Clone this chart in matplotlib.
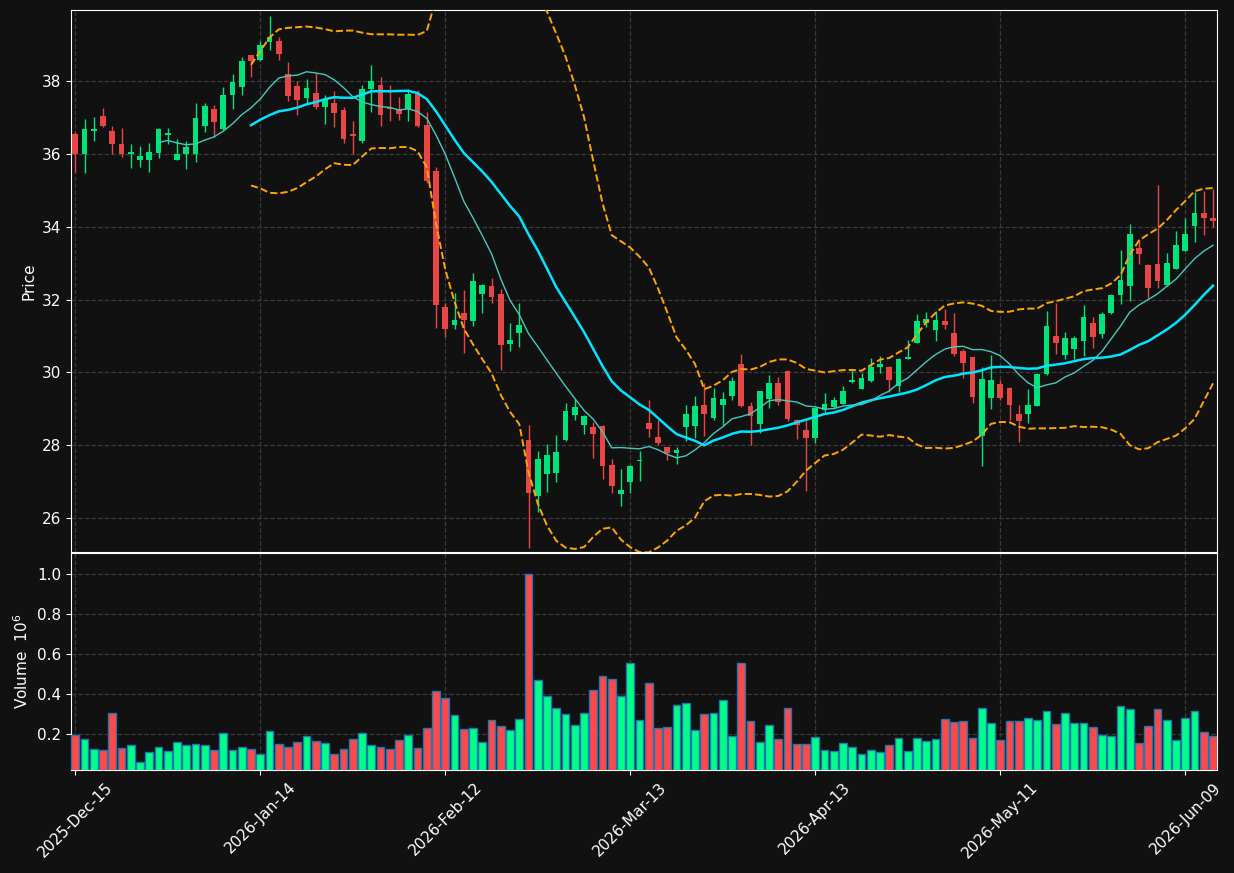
import numpy as np
import pandas as pd
import matplotlib
matplotlib.use("Agg")
import matplotlib.pyplot as plt

# ---------------- data ----------------
opens = [36.55, 36.00, 36.64, 37.04, 36.63, 36.27, 36.00, 35.83, 35.83, 36.03,
         36.52, 35.83, 36.00, 36.00, 36.76, 37.23, 36.68, 37.62, 37.84, 38.71,
         38.59, 39.08, 39.10, 38.18, 37.86, 37.54, 37.67, 37.30, 37.40, 37.20,
         36.54, 36.35, 37.78, 37.89, 37.27, 37.23, 37.24, 37.64, 36.79, 35.53,
         31.79, 31.31, 31.63, 31.41, 32.16, 32.38, 32.16, 30.79, 31.07, 28.15,
         26.62, 27.22, 27.25, 28.15, 28.84, 28.57, 28.50, 28.53, 27.46, 26.67,
         27.00, 27.56, 28.62, 28.22, 27.94, 27.79, 28.50, 28.53, 29.11, 28.75,
         29.11, 29.36, 30.22, 29.08, 28.58, 29.27, 29.72, 30.05, 28.70, 28.43,
         28.20, 28.97, 29.05, 29.14, 29.73, 29.55, 29.76, 30.14, 30.16, 29.62,
         30.37, 30.81, 31.37, 31.16, 31.40, 31.07, 30.58, 30.41, 28.25, 29.30,
         29.67, 29.56, 28.87, 28.86, 29.09, 29.95, 31.01, 30.47, 30.63, 30.85,
         31.36, 31.05, 31.62, 32.12, 32.37, 33.42, 32.96, 32.99, 32.39, 32.85,
         33.33, 34.02, 34.37, 34.23]
highs = [36.60, 36.97, 37.00, 37.25, 36.76, 36.70, 36.26, 36.22, 36.29, 36.70,
         36.71, 36.40, 36.34, 37.39, 37.40, 37.33, 37.83, 38.19, 38.67, 38.72,
         39.10, 39.78, 39.22, 38.51, 38.01, 38.05, 38.21, 37.63, 37.72, 37.30,
         36.91, 37.90, 38.44, 38.12, 37.88, 37.57, 37.79, 37.75, 37.14, 35.63,
         31.91, 32.19, 32.27, 32.72, 32.42, 32.59, 32.28, 31.37, 31.90, 28.56,
         27.85, 28.03, 28.28, 29.15, 29.26, 28.82, 28.63, 28.55, 27.62, 27.34,
         27.45, 27.84, 29.24, 28.70, 27.95, 27.96, 29.11, 29.34, 29.72, 29.58,
         29.47, 29.87, 30.51, 29.19, 29.50, 29.94, 29.88, 30.06, 28.73, 28.70,
         29.05, 29.44, 29.33, 29.63, 30.08, 29.99, 30.39, 30.44, 30.17, 30.39,
         30.88, 31.61, 31.66, 31.68, 31.75, 31.64, 30.65, 30.42, 30.16, 30.48,
         29.79, 29.60, 29.11, 29.54, 29.99, 31.68, 31.91, 31.11, 31.01, 31.84,
         31.52, 31.65, 32.14, 33.36, 34.08, 33.67, 32.97, 35.14, 33.28, 33.88,
         34.23, 34.94, 34.98, 35.03]
lows = [35.49, 35.48, 36.36, 36.73, 36.00, 35.92, 35.60, 35.65, 35.49, 35.88,
        36.26, 35.83, 35.59, 35.79, 36.61, 36.47, 36.66, 37.22, 37.61, 38.10,
        38.55, 38.85, 38.59, 37.46, 37.08, 37.39, 37.22, 36.81, 36.75, 36.29,
        36.00, 36.31, 37.16, 36.77, 36.91, 36.93, 36.91, 36.73, 35.20, 31.21,
        30.98, 31.18, 30.54, 31.28, 31.62, 31.90, 30.07, 30.58, 30.69, 25.17,
        26.16, 26.71, 27.00, 28.11, 28.69, 28.30, 27.64, 27.07, 26.68, 26.33,
        26.68, 27.01, 28.24, 28.00, 27.60, 27.49, 28.13, 28.21, 28.26, 28.70,
        28.56, 29.25, 29.05, 28.00, 28.35, 29.03, 29.11, 28.66, 28.18, 26.74,
        28.06, 28.91, 29.02, 29.13, 29.71, 29.54, 29.75, 29.99, 29.45, 29.45,
        30.36, 30.80, 31.25, 30.87, 31.19, 30.44, 29.85, 29.17, 27.42, 29.00,
        29.25, 28.70, 28.10, 28.61, 29.08, 29.93, 30.51, 30.38, 30.38, 30.44,
        30.67, 30.94, 31.60, 31.88, 31.97, 32.98, 32.05, 32.32, 32.38, 32.84,
        33.32, 33.59, 33.76, 34.00]
closes = [36.00, 36.68, 36.68, 36.76, 36.27, 36.00, 36.05, 35.94, 36.05, 36.68,
          36.57, 36.00, 36.20, 36.98, 37.31, 36.88, 37.62, 37.97, 38.55, 38.56,
          39.00, 39.20, 38.75, 37.60, 37.48, 37.81, 37.30, 37.51, 37.13, 36.42,
          36.50, 37.77, 38.00, 37.08, 37.23, 37.10, 37.64, 36.76, 35.26, 31.86,
          31.20, 31.44, 31.44, 32.51, 32.40, 32.08, 30.74, 30.89, 31.30, 26.68,
          27.63, 27.73, 27.82, 28.94, 29.05, 28.81, 28.32, 27.44, 26.87, 26.77,
          27.43, 27.58, 28.46, 28.05, 27.78, 27.86, 28.85, 29.08, 28.85, 29.29,
          29.28, 29.77, 29.08, 28.80, 29.50, 29.72, 29.18, 28.72, 28.55, 28.20,
          29.03, 29.14, 29.23, 29.50, 29.79, 29.84, 30.16, 30.22, 29.78, 30.38,
          30.41, 31.40, 31.48, 31.43, 31.30, 30.50, 30.26, 29.32, 29.81, 29.78,
          29.31, 29.10, 28.66, 29.11, 29.95, 31.28, 30.81, 30.94, 30.94, 31.53,
          30.96, 31.61, 32.13, 32.55, 33.79, 33.26, 32.31, 32.50, 33.01, 33.49,
          33.79, 34.37, 34.24, 34.16]
volumes_m = [0.195, 0.173, 0.123, 0.118, 0.303, 0.128, 0.143, 0.058, 0.108, 0.133,
             0.113, 0.158, 0.143, 0.148, 0.143, 0.118, 0.203, 0.118, 0.133, 0.123,
             0.098, 0.213, 0.148, 0.133, 0.158, 0.188, 0.163, 0.153, 0.098, 0.123,
             0.173, 0.203, 0.143, 0.133, 0.123, 0.168, 0.193, 0.128, 0.228, 0.413,
             0.378, 0.295, 0.225, 0.230, 0.160, 0.270, 0.240, 0.220, 0.275, 1.000,
             0.470, 0.390, 0.330, 0.300, 0.245, 0.305, 0.420, 0.490, 0.475, 0.390,
             0.555, 0.270, 0.455, 0.230, 0.235, 0.345, 0.355, 0.220, 0.300, 0.305,
             0.370, 0.190, 0.555, 0.265, 0.160, 0.245, 0.175, 0.330, 0.150, 0.150,
             0.185, 0.120, 0.115, 0.155, 0.135, 0.100, 0.120, 0.110, 0.145, 0.180,
             0.115, 0.180, 0.165, 0.175, 0.275, 0.260, 0.265, 0.180, 0.330, 0.255,
             0.170, 0.265, 0.265, 0.280, 0.270, 0.315, 0.250, 0.305, 0.255, 0.255,
             0.235, 0.195, 0.190, 0.340, 0.325, 0.155, 0.240, 0.325, 0.270, 0.170,
             0.280, 0.315, 0.210, 0.190]
tick_labels = ["2025-Dec-15", "2026-Jan-14", "2026-Feb-12", "2026-Mar-13",
               "2026-Apr-13", "2026-May-11", "2026-Jun-09"]
tick_index = [0, 20, 40, 60, 80, 100, 120]

# ---------------- styling ----------------
BG = "#111111"
UP_C, DN_C = "#00e27a", "#e84545"
VUP_C, VDN_C = "#00ff88", "#ff4848"
GRID_C = "#3a3a3a"

df = pd.DataFrame({"Open": opens, "High": highs, "Low": lows, "Close": closes,
                   "Volume": np.array(volumes_m) * 1e6})
x = np.arange(len(df))
ma10 = df["Close"].rolling(10).mean()
ma20 = df["Close"].rolling(20).mean()
sd20 = df["Close"].rolling(20).std()
bb_up = ma20 + 2 * sd20
bb_lo = ma20 - 2 * sd20

W, H = 1234, 873
fig = plt.figure(figsize=(W / 100, H / 100), dpi=100, facecolor=BG)
L, R = 71 / W, 1217 / W
ax = fig.add_axes([L, 1 - 552 / H, R - L, (552 - 10) / H], facecolor=BG)
axv = fig.add_axes([L, 1 - 770 / H, R - L, (770 - 553) / H], facecolor=BG, sharex=ax)

up = df["Close"] >= df["Open"]
ccol = np.where(up, UP_C, DN_C)
vcol = np.where(up, VUP_C, VDN_C)

for a in (ax, axv):
    a.grid(True, color=GRID_C, linestyle="--", linewidth=0.9)
    a.set_axisbelow(True)

# candles
ax.vlines(x, df["Low"], df["High"], colors=ccol, linewidth=1.0, zorder=2)
body_lo = np.minimum(df["Open"], df["Close"])
body_h = np.maximum(np.abs(df["Close"] - df["Open"]), 0.04)
ax.bar(x, body_h, bottom=body_lo, width=0.6, color=ccol, linewidth=0, zorder=3)

# moving averages and bands
ax.plot(x, ma20, color="#00e5ff", linewidth=1.8, zorder=4)
ax.plot(x, ma10, color="#45c9bd", linewidth=1.0, zorder=4)
ax.plot(x, bb_up, color="#ffa500", linestyle="--", linewidth=1.4, zorder=4)
ax.plot(x, bb_lo, color="#ffa500", linestyle="--", linewidth=1.4, zorder=4)

ax.set_ylim(25.07, 39.95)
ax.set_xlim(-0.46, 123.43)
ax.set_yticks([26, 28, 30, 32, 34, 36, 38])
ax.set_ylabel("Price", color="white", fontsize=11)

# volume
axv.bar(x, df["Volume"] / 1e6, width=0.85, color=vcol, edgecolor="#1f77b4",
        linewidth=1.0, zorder=3)
axv.set_ylim(0.0174, 1.105)
axv.set_yticks([0.2, 0.4, 0.6, 0.8, 1.0])
axv.set_yticklabels(["0.2", "0.4", "0.6", "0.8", "1.0"])
axv.set_ylabel("Volume  $10^{6}$", color="white", fontsize=11)

axv.set_xticks(tick_index)
axv.set_xticklabels(tick_labels, rotation=45, ha="center")
plt.setp(ax.get_xticklabels(), visible=False)

for a in (ax, axv):
    a.tick_params(colors="white", labelsize=11)
    for s in a.spines.values():
        s.set_color("white")
ax.tick_params(axis="x", length=0)

fig.savefig("out.png", dpi=100, facecolor=BG)
